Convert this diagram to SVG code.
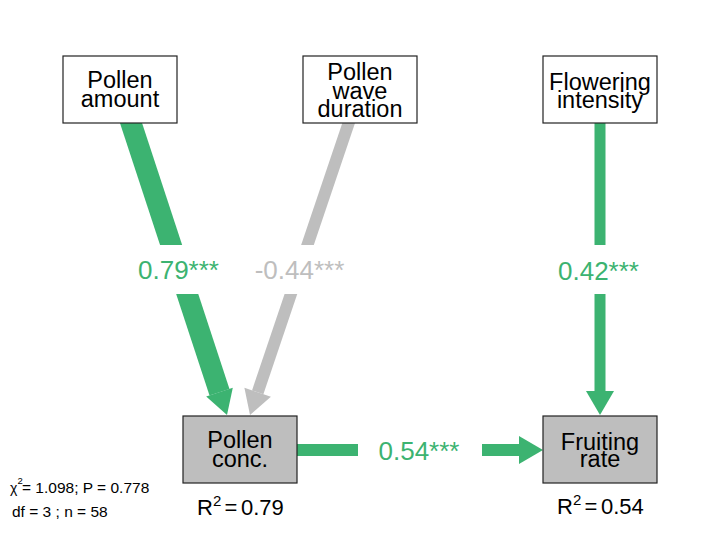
<svg xmlns="http://www.w3.org/2000/svg" width="720" height="540" viewBox="0 0 720 540">
<style>
.node rect{stroke:#222;stroke-width:1.2}
.exo rect{fill:#fff}
.endo rect{fill:#bebebe}
.nt{font-family:"Liberation Sans",Arial,sans-serif;font-size:23.5px;fill:#000;text-anchor:middle}
.el{font-family:"Liberation Sans",Arial,sans-serif;font-size:26px;text-anchor:middle}
.pos{fill:#3cb371;stroke:#3cb371}
.neg{fill:#bebebe;stroke:#bebebe}
.shaft{fill:none}
.head{stroke:none}
.lbg{fill:#fff;stroke:none}
.r2{font-family:"Liberation Sans",Arial,sans-serif;font-size:22px;fill:#000}
.fit{font-family:"Liberation Sans",Arial,sans-serif;font-size:15.5px;fill:#000}
</style>
<rect width="720" height="540" fill="#fff"/>
<g id="connectors">
  <g id="e-amount-conc">
    <line class="shaft pos" x1="120" y1="89.5" x2="219.5" y2="392.2" stroke-width="21"/>
    <polygon class="head pos" points="227,415 232.8,387.8 206.2,396.6"/>
  </g>
  <g id="e-wave-conc">
    <line class="shaft neg" x1="360" y1="89.5" x2="257.7" y2="392.3" stroke-width="12"/>
    <polygon class="head neg" points="250,415 270.9,396.7 244.4,387.8"/>
  </g>
  <g id="e-flower-fruit">
    <line class="shaft pos" x1="600" y1="89.5" x2="600" y2="392" stroke-width="11"/>
    <polygon class="head pos" points="600,415 614,391 586,391"/>
  </g>
  <g id="e-conc-fruit">
    <line class="shaft pos" x1="240" y1="450" x2="520" y2="450" stroke-width="12"/>
    <polygon class="head pos" points="543,450 519,436 519,464"/>
  </g>
  <rect class="lbg" x="132" y="245" width="93" height="49"/>
  <rect class="lbg" x="249" y="245" width="102" height="49"/>
  <rect class="lbg" x="553" y="245" width="92" height="49"/>
  <rect class="lbg" x="358" y="426" width="124" height="48"/>
  <text class="el" x="178.5" y="279" fill="#3cb371">0.79***</text>
  <text class="el" x="299.5" y="279" fill="#bebebe">-0.44***</text>
  <text class="el" x="598.5" y="280" fill="#3cb371">0.42***</text>
  <text class="el" x="419" y="460" fill="#3cb371">0.54***</text>
</g>
<g id="n-pollen-amount" class="node exo">
  <rect x="63" y="56" width="114" height="67"/>
  <text class="nt" x="120" y="88.3">Pollen</text>
  <text class="nt" x="120" y="106.7">amount</text>
</g>
<g id="n-pollen-wave" class="node exo">
  <rect x="303" y="56" width="114" height="67"/>
  <text class="nt" x="360" y="80">Pollen</text>
  <text class="nt" x="360" y="98.7">wave</text>
  <text class="nt" x="360" y="117.3">duration</text>
</g>
<g id="n-flowering" class="node exo">
  <rect x="543" y="56" width="114" height="67"/>
  <text class="nt" x="600" y="90">Flowering</text>
  <text class="nt" x="600" y="108.3">intensity</text>
</g>
<g id="n-pollen-conc" class="node endo">
  <rect x="183" y="416" width="114" height="67"/>
  <text class="nt" x="240" y="448.3">Pollen</text>
  <text class="nt" x="240" y="466.7">conc.</text>
</g>
<g id="n-fruiting" class="node endo">
  <rect x="543" y="416" width="114" height="67"/>
  <text class="nt" x="600" y="449.5">Fruiting</text>
  <text class="nt" x="600" y="467.3">rate</text>
</g>
<g id="r2-labels">
  <text class="r2" y="515"><tspan x="197">R</tspan><tspan x="213" y="506" font-size="15">2</tspan><tspan x="224.5" y="515">=</tspan><tspan x="241" y="515">0.79</tspan></text>
  <text class="r2" y="514"><tspan x="557">R</tspan><tspan x="573" y="505" font-size="15">2</tspan><tspan x="584.5" y="514">=</tspan><tspan x="601" y="514">0.54</tspan></text>
</g>
<g id="fit-stats">
  <text class="fit" y="493"><tspan x="10" font-size="14">χ</tspan><tspan x="17.5" y="484" font-size="9.5">2</tspan><tspan x="22" y="493">= 1.098; P = 0.778</tspan></text>
  <text class="fit" x="12" y="517">df = 3 ; n = 58</text>
</g>
</svg>
